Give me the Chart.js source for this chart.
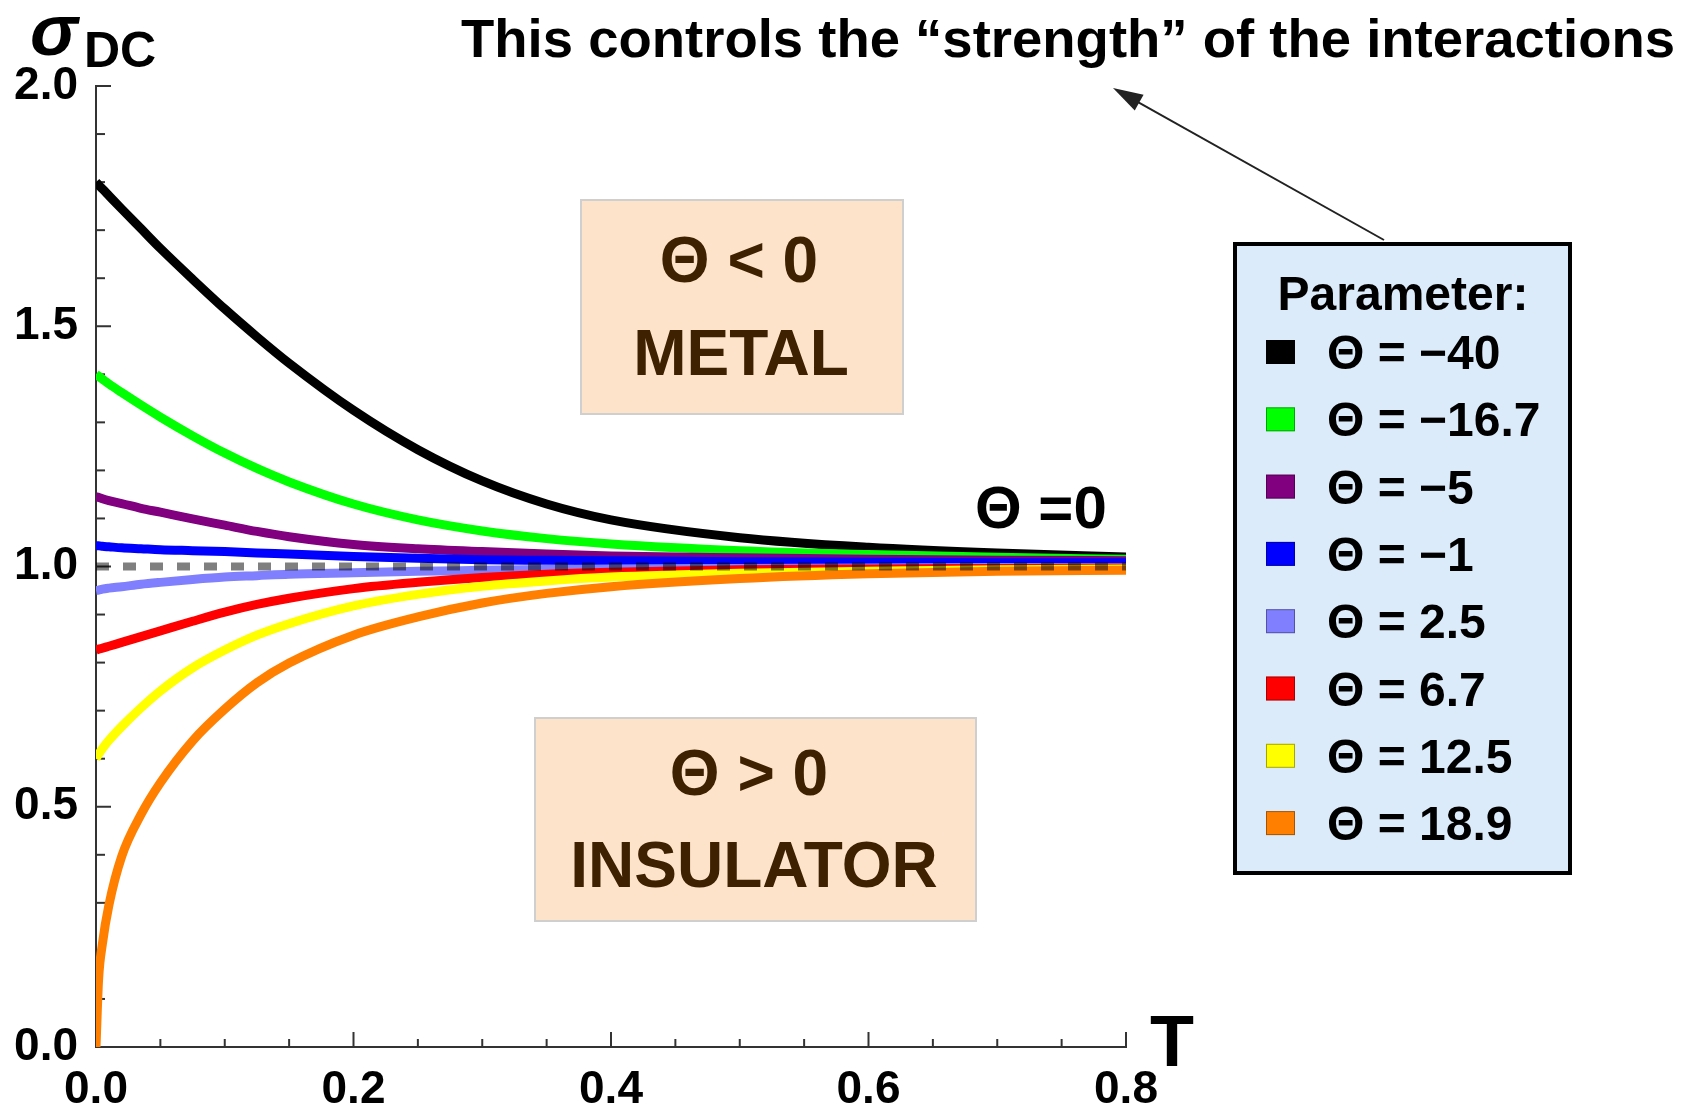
<!DOCTYPE html>
<html lang="en">
<head>
<meta charset="UTF-8" />
<title>σDC versus T</title>
<script src="https://cdn.jsdelivr.net/npm/chart.js"></script>
<style>
  html, body { margin: 0; padding: 0; background: #fff; }
  canvas { display: block; }
</style>
</head>
<body>
<canvas id="chart" width="1689" height="1107"></canvas>
<script>
// temperature samples shared by all curves
const temps = [0, 0.002, 0.005, 0.01, 0.02, 0.035, 0.05, 0.075, 0.1, 0.125, 0.15, 0.2, 0.25, 0.3, 0.35, 0.4, 0.5, 0.6, 0.7, 0.8];

// sigma_DC for each value of the interaction parameter
const sigmaM40   = [1.80, 1.794, 1.786, 1.772, 1.744, 1.703, 1.662, 1.598, 1.536, 1.478, 1.423, 1.325, 1.243, 1.178, 1.13, 1.097, 1.06, 1.04, 1.028, 1.02];
const sigmaM16_7 = [1.40, 1.396, 1.39, 1.38, 1.362, 1.336, 1.311, 1.272, 1.236, 1.204, 1.176, 1.13, 1.097, 1.074, 1.058, 1.047, 1.033, 1.025, 1.019, 1.015];
const sigmaM5    = [1.145, 1.144, 1.141, 1.137, 1.131, 1.121, 1.113, 1.099, 1.086, 1.073, 1.062, 1.046, 1.037, 1.031, 1.026, 1.022, 1.018, 1.015, 1.013, 1.012];
const sigmaM1    = [1.043, 1.043, 1.042, 1.041, 1.039, 1.037, 1.035, 1.033, 1.031, 1.028, 1.026, 1.021, 1.017, 1.014, 1.013, 1.012, 1.010, 1.009, 1.008, 1.008];
const sigmaP2_5  = [0.950, 0.951, 0.953, 0.955, 0.958, 0.963, 0.967, 0.973, 0.978, 0.981, 0.984, 0.987, 0.990, 0.992, 0.994, 0.995, 0.996, 0.997, 0.998, 0.998];
const sigmaP6_7  = [0.826, 0.828, 0.83, 0.834, 0.842, 0.854, 0.866, 0.886, 0.905, 0.921, 0.934, 0.954, 0.967, 0.977, 0.984, 0.988, 0.993, 0.995, 0.996, 0.997];
const sigmaP12_5 = [0.60, 0.609, 0.621, 0.638, 0.667, 0.706, 0.741, 0.789, 0.826, 0.857, 0.881, 0.918, 0.942, 0.959, 0.970, 0.978, 0.986, 0.990, 0.993, 0.995];
const sigmaP18_9 = [0.0, 0.14, 0.215, 0.295, 0.397, 0.484, 0.55, 0.637, 0.703, 0.758, 0.799, 0.857, 0.895, 0.924, 0.944, 0.958, 0.975, 0.985, 0.990, 0.992];

const thetaLabels = ['−40', '−16.7', '−5', '−1', '2.5', '6.7', '12.5', '18.9'];
const curveColors = ['#000000', '#00ff00', '#800080', '#0000ff', '#8080ff', '#ff0000', '#ffff00', '#ff8000'];
const allSigma = [sigmaM40, sigmaM16_7, sigmaM5, sigmaM1, sigmaP2_5, sigmaP6_7, sigmaP12_5, sigmaP18_9];

// Θ = 0 reference line
const refT = [0, 0.8];
const refSigma = [1, 1];

// axis ticks
const xMajor = [0, 0.2, 0.4, 0.6, 0.8];
const xTickLabels = ['0.0', '0.2', '0.4', '0.6', '0.8'];
const yMajor = [0, 0.5, 1, 1.5, 2];
const yTickLabels = ['0.0', '0.5', '1.0', '1.5', '2.0'];

const FONT = '"Liberation Sans", Arial, sans-serif';
const BROWN = '#3d2100';

function majorLabel(value, majors, labels) {
  const i = majors.findIndex(m => Math.abs(m - value) < 1e-6);
  return i >= 0 ? labels[i] : '';
}

const datasets = allSigma.map((vals, i) => ({
  label: 'Θ = ' + thetaLabels[i],
  data: temps.map((t, j) => ({ x: t, y: vals[j] })),
  borderColor: curveColors[i],
  borderWidth: 9,
  pointRadius: 0,
  cubicInterpolationMode: 'monotone',
  order: allSigma.length - i   // later curves sit on top
}));
datasets.push({
  label: 'Θ = 0',
  data: refT.map((t, j) => ({ x: t, y: refSigma[j] })),
  borderColor: 'rgba(0,0,0,0.5)',
  borderWidth: 8,
  borderDash: [13, 14],
  pointRadius: 0,
  order: 0
});

function text(ctx, str, x, y, font, color, align) {
  ctx.font = font;
  ctx.fillStyle = color;
  ctx.textAlign = align || 'left';
  ctx.textBaseline = 'alphabetic';
  ctx.fillText(str, x, y);
}

// inward tick marks and the two shaded region boxes
const underlay = {
  id: 'underlay',
  beforeDatasetsDraw(chart) {
    const ctx = chart.ctx;
    const xs = chart.scales.x, ys = chart.scales.y;
    const area = chart.chartArea;
    ctx.save();
    ctx.strokeStyle = '#333';
    ctx.lineWidth = 2;
    xs.ticks.forEach(t => {
      if (t.value <= 0) return;
      const px = xs.getPixelForValue(t.value);
      const len = majorLabel(t.value, xMajor, xTickLabels) ? 15 : 8;
      ctx.beginPath();
      ctx.moveTo(px, area.bottom);
      ctx.lineTo(px, area.bottom - len);
      ctx.stroke();
    });
    ys.ticks.forEach(t => {
      if (t.value <= 0) return;
      const py = ys.getPixelForValue(t.value);
      const len = majorLabel(t.value, yMajor, yTickLabels) ? 15 : 9;
      ctx.beginPath();
      ctx.moveTo(area.left, py);
      ctx.lineTo(area.left + len, py);
      ctx.stroke();
    });

    // metal / insulator boxes
    ctx.fillStyle = '#fde3c9';
    ctx.strokeStyle = '#cfcfcf';
    ctx.lineWidth = 2;
    ctx.fillRect(581, 200, 322, 214);
    ctx.strokeRect(581, 200, 322, 214);
    ctx.fillRect(535, 718, 441, 203);
    ctx.strokeRect(535, 718, 441, 203);
    text(ctx, 'Θ < 0', 739, 282, 'bold 64px ' + FONT, BROWN, 'center');
    text(ctx, 'METAL', 741, 375, 'bold 64px ' + FONT, BROWN, 'center');
    text(ctx, 'Θ > 0', 749, 795, 'bold 64px ' + FONT, BROWN, 'center');
    text(ctx, 'INSULATOR', 754, 887, 'bold 64px ' + FONT, BROWN, 'center');
    ctx.restore();
  }
};

// labels, legend box and the arrow
const overlay = {
  id: 'overlay',
  afterDraw(chart) {
    const ctx = chart.ctx;
    ctx.save();

    // axis titles
    text(ctx, 'σ', 30, 55, 'italic bold 72px ' + FONT, '#000');
    text(ctx, 'DC', 84, 67, 'bold 50px ' + FONT, '#000');
    text(ctx, 'T', 1150, 1066, 'bold 72px ' + FONT, '#000');

    text(ctx, 'Θ =0', 975, 528, 'bold 60px ' + FONT, '#000');

    // headline, squeezed to a narrow face
    const title = 'This controls the “strength” of the interactions';
    ctx.font = 'bold 54px "Liberation Sans Narrow", ' + FONT;
    const w = ctx.measureText(title).width;
    ctx.save();
    ctx.translate(461, 57);
    ctx.scale(1214 / w, 1);
    ctx.fillStyle = '#000';
    ctx.textAlign = 'left';
    ctx.fillText(title, 0, 0);
    ctx.restore();

    // arrow from the legend to the headline
    const x0 = 1384, y0 = 240, x1 = 1113, y1 = 88;
    const ang = Math.atan2(y1 - y0, x1 - x0);
    ctx.strokeStyle = '#222';
    ctx.fillStyle = '#222';
    ctx.lineWidth = 2;
    ctx.beginPath();
    ctx.moveTo(x0, y0);
    ctx.lineTo(x1 - 20 * Math.cos(ang), y1 - 20 * Math.sin(ang));
    ctx.stroke();
    ctx.beginPath();
    ctx.moveTo(x1, y1);
    ctx.lineTo(x1 - 30 * Math.cos(ang) + 9 * Math.sin(ang), y1 - 30 * Math.sin(ang) - 9 * Math.cos(ang));
    ctx.lineTo(x1 - 30 * Math.cos(ang) - 9 * Math.sin(ang), y1 - 30 * Math.sin(ang) + 9 * Math.cos(ang));
    ctx.closePath();
    ctx.fill();

    // legend
    ctx.fillStyle = '#dcebfa';
    ctx.fillRect(1233, 242, 339, 633);
    ctx.strokeStyle = '#000';
    ctx.lineWidth = 4;
    ctx.strokeRect(1235, 244, 335, 629);
    text(ctx, 'Parameter:', 1403, 310, 'bold 48px ' + FONT, '#000', 'center');
    thetaLabels.forEach((lab, i) => {
      const cy = 352 + i * 67.3;
      ctx.fillStyle = curveColors[i];
      ctx.fillRect(1266, cy - 12, 29, 24);
      ctx.strokeStyle = 'rgba(0,0,0,0.35)';
      ctx.lineWidth = 1;
      ctx.strokeRect(1266.5, cy - 11.5, 28, 23);
      text(ctx, 'Θ = ' + lab, 1327, cy + 17, 'bold 48px ' + FONT, '#000');
    });
    ctx.restore();
  }
};

new Chart(document.getElementById('chart'), {
  type: 'line',
  data: { datasets },
  options: {
    responsive: false,
    animation: false,
    layout: { padding: { left: 0, top: 86, right: 563, bottom: 0 } },
    plugins: { legend: { display: false }, tooltip: { enabled: false } },
    scales: {
      x: {
        type: 'linear',
        min: 0,
        max: 0.8,
        afterFit: s => { s.height = 60; },
        grid: { display: false },
        border: { display: true, color: '#333', width: 2 },
        ticks: {
          stepSize: 0.05,
          autoSkip: false,
          maxRotation: 0,
          padding: 8,
          color: '#000',
          font: { family: FONT, size: 46, weight: 'bold' },
          callback: v => majorLabel(v, xMajor, xTickLabels)
        }
      },
      y: {
        type: 'linear',
        min: 0,
        max: 2,
        afterFit: s => { s.width = 96; },
        grid: { display: false },
        border: { display: true, color: '#333', width: 2 },
        ticks: {
          stepSize: 0.1,
          autoSkip: false,
          padding: 10,
          color: '#000',
          font: { family: FONT, size: 46, weight: 'bold' },
          callback: v => majorLabel(v, yMajor, yTickLabels)
        }
      }
    }
  },
  plugins: [underlay, overlay]
});
</script>
</body>
</html>
